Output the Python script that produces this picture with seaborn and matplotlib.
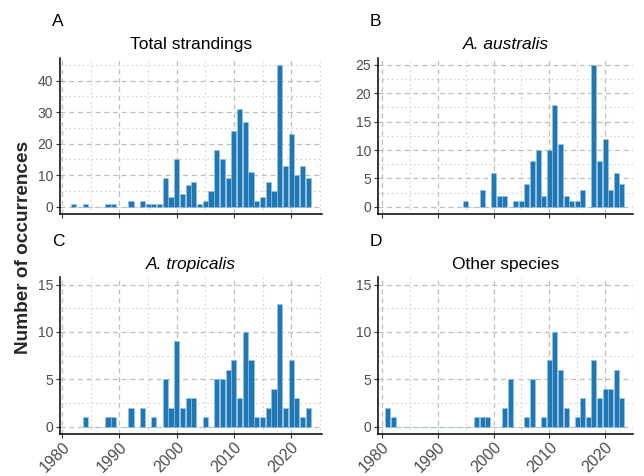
import matplotlib
matplotlib.use("Agg")
import matplotlib.pyplot as plt
import seaborn as sns
import numpy as np
from matplotlib.ticker import MultipleLocator

# ---- data ----
years_A = [1982, 1984, 1988, 1989, 1992, 1994, 1995, 1996, 1997, 1998, 1999, 2000,
           2001, 2002, 2003, 2004, 2005, 2006, 2007, 2008, 2009, 2010, 2011, 2012,
           2013, 2014, 2015, 2016, 2017, 2018, 2019, 2020, 2021, 2022, 2023]
counts_A = [1, 1, 1, 1, 2, 2, 1, 1, 1, 9, 3, 15,
            4, 7, 8, 1, 2, 5, 18, 15, 9, 24, 31, 27,
            11, 2, 3, 8, 5, 45, 13, 23, 10, 13, 9]

years_B = [1995, 1998, 2000, 2001, 2002, 2004, 2005, 2006, 2007, 2008, 2009, 2010,
           2011, 2012, 2013, 2014, 2015, 2016, 2018, 2019, 2020, 2021, 2022, 2023]
counts_B = [1, 3, 6, 2, 2, 1, 1, 4, 8, 10, 2, 10,
            18, 11, 2, 1, 1, 3, 25, 8, 12, 3, 6, 4]

years_C = [1984, 1988, 1989, 1992, 1994, 1996, 1998, 1999, 2000, 2001, 2002, 2003,
           2005, 2007, 2008, 2009, 2010, 2011, 2012, 2013, 2014, 2015, 2016, 2017,
           2018, 2019, 2020, 2021, 2022, 2023]
counts_C = [1, 1, 1, 2, 2, 1, 5, 2, 9, 2, 3, 3,
            1, 5, 5, 6, 7, 3, 10, 7, 1, 1, 2, 4,
            13, 2, 7, 3, 1, 2]

years_D = [1981, 1982, 1997, 1998, 1999, 2002, 2003, 2006, 2007, 2009, 2010, 2011,
           2012, 2013, 2015, 2016, 2017, 2018, 2019, 2020, 2021, 2022, 2023]
counts_D = [2, 1, 1, 1, 1, 2, 5, 1, 5, 1, 7, 10,
            6, 2, 1, 3, 1, 7, 3, 4, 4, 6, 3]

titles = ["Total strandings", "A. australis", "A. tropicalis", "Other species"]
tags = ["A", "B", "C", "D"]
x_ticks = [1980, 1990, 2000, 2010, 2020]
ylabel = "Number of occurrences"

# ---- style ----
sns.set_theme(style="white")
plt.rcParams['font.family'] = ['Liberation Sans', 'DejaVu Sans']

W, H = 644, 476
fig = plt.figure(figsize=(W / 100, H / 100), dpi=100)

def box(l, t, r, b):
    return [l / W, 1 - b / H, (r - l) / W, (b - t) / H]

panels = [
    dict(pos=box(60, 57.6, 322, 214), y=years_A, c=counts_A, ylim=(-2.25, 47.25),
         ymaj=10, ymin=5, xlim=(1979.6, 2025.4), italic=False),
    dict(pos=box(378, 57.6, 633, 214), y=years_B, c=counts_B, ylim=(-1.25, 26.25),
         ymaj=5, ymin=2.5, xlim=(1979.3, 2025.0), italic=True),
    dict(pos=box(60, 277.4, 322, 434), y=years_C, c=counts_C, ylim=(-0.75, 15.75),
         ymaj=5, ymin=2.5, xlim=(1979.6, 2025.4), italic=True),
    dict(pos=box(378, 277.4, 633, 434), y=years_D, c=counts_D, ylim=(-0.75, 15.75),
         ymaj=5, ymin=2.5, xlim=(1979.3, 2025.0), italic=False),
]

bar_color = "#1F77B4"
for i, p in enumerate(panels):
    ax = fig.add_axes(p["pos"])
    sns.histplot(x=p["y"], weights=p["c"], discrete=True, shrink=0.9,
                 color=bar_color, edgecolor="#9cc3e4", linewidth=0.4,
                 alpha=1.0, ax=ax, zorder=3)
    ax.set_xlim(*p["xlim"])
    ax.set_ylim(*p["ylim"])
    ax.xaxis.set_major_locator(plt.FixedLocator(x_ticks))
    ax.xaxis.set_minor_locator(MultipleLocator(5))
    ax.yaxis.set_major_locator(MultipleLocator(p["ymaj"]))
    ax.yaxis.set_minor_locator(MultipleLocator(p["ymin"]))
    ax.set_ylim(*p["ylim"])
    ax.grid(which="major", linestyle=(0, (4, 3)), color="#BEBEBE", linewidth=0.9, zorder=0)
    ax.grid(which="minor", linestyle=(0, (1.5, 2.5)), color="#D3D3D3", linewidth=0.8, zorder=0)
    ax.set_axisbelow(True)
    for s in ["top", "right"]:
        ax.spines[s].set_visible(False)
    for s in ["left", "bottom"]:
        ax.spines[s].set_color("black")
        ax.spines[s].set_linewidth(1.1)
    ax.tick_params(which="major", length=3, width=0.8, color="#333333",
                   labelcolor="#4D4D4D", labelsize=10, bottom=True, left=True, pad=2)
    ax.tick_params(axis="x", which="major", pad=1)
    ax.tick_params(which="minor", length=0)
    ax.set_ylabel("")
    ax.set_xlabel("")
    if i >= 2:
        ax.set_xticklabels([str(t) for t in x_ticks], rotation=45, ha="right", va="top",
                           rotation_mode="anchor", fontsize=11.5, color="#4D4D4D")
    else:
        ax.set_xticklabels([])
    ax.set_title(titles[i], fontsize=12.5, style="italic" if p["italic"] else "normal",
                 pad=6, color="black")
    bb = p["pos"]
    fig.text(bb[0] - 8 / W, bb[1] + bb[3] + 36 / H, tags[i], fontsize=12.5,
             ha="left", va="center", color="black")

fig.text(24 / W, 1 - 247 / H, ylabel, rotation=90, ha="center", va="center",
         fontsize=13.7, fontweight="bold")

fig.savefig("out.png", dpi=100, facecolor="white")
